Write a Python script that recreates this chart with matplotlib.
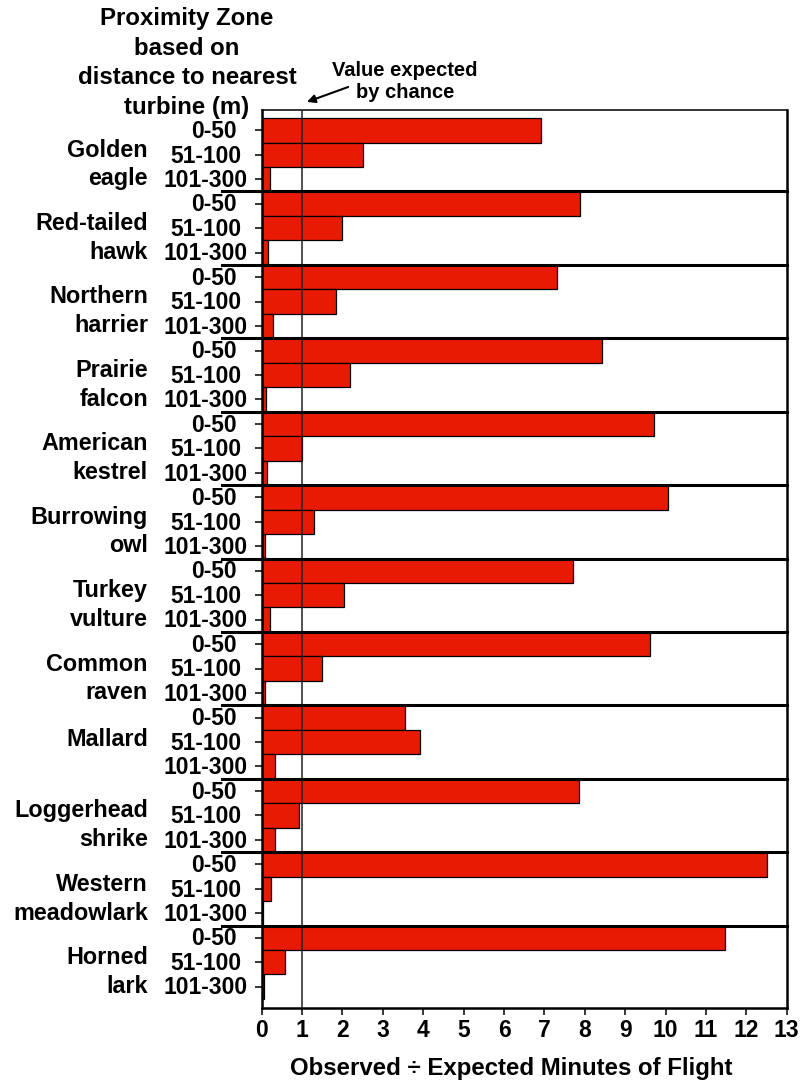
import matplotlib
matplotlib.use("Agg")
import matplotlib.pyplot as plt
import numpy as np

plt.rcParams['font.family'] = ['Liberation Sans', 'DejaVu Sans']
plt.rcParams['font.weight'] = 'bold'

# data
species = ["Golden\neagle", "Red-tailed\nhawk", "Northern\nharrier", "Prairie\nfalcon",
           "American\nkestrel", "Burrowing\nowl", "Turkey\nvulture", "Common\nraven",
           "Mallard", "Loggerhead\nshrike", "Western\nmeadowlark", "Horned\nlark"]
zones = ["0-50", "51-100", "101-300"]
zone_0_50 = [6.91, 7.89, 7.32, 8.42, 9.72, 10.06, 7.72, 9.62, 3.55, 7.85, 12.50, 11.48]
zone_51_100 = [2.50, 2.00, 1.84, 2.19, 1.01, 1.30, 2.04, 1.49, 3.93, 0.93, 0.24, 0.58]
zone_101_300 = [0.20, 0.16, 0.27, 0.10, 0.14, 0.07, 0.20, 0.07, 0.34, 0.34, 0.02, 0.06]
x_ticks = list(range(0, 14))

bar_color = '#E81A03'

fig = plt.figure(figsize=(8.01, 10.85), dpi=100)
ax = fig.add_axes([261.7 / 801, 1 - 1008 / 1085, 525 / 801, 898 / 1085])

n = len(species)
for k, vals in enumerate([zone_0_50, zone_51_100, zone_101_300]):
    ypos = np.arange(n) * 3 + k
    ax.barh(ypos, vals, height=1.0, color=bar_color, edgecolor='black',
            linewidth=0.9, zorder=2)

ax.set_ylim(35.87, -0.83)
ax.set_xlim(0, 13)

# value expected by chance
ax.axvline(1, color='#222222', linewidth=1.1, zorder=3)

# group separators (extend left past the axis)
for g in range(1, n):
    ax.plot([-0.0756, 1], [g * 3 - 0.5, g * 3 - 0.5], color='black', linewidth=2.2,
            transform=ax.get_yaxis_transform(), clip_on=False, zorder=4)

# y ticks at every bar
ax.set_yticks(np.arange(n * 3))
ax.set_yticklabels([])
ax.tick_params(axis='y', direction='out', length=5, width=1.1, left=True)

label_x = {"0-50": -0.0470, "51-100": -0.0394, "101-300": -0.0261}
for g in range(n):
    for k, z in enumerate(zones):
        ax.text(label_x[z], g * 3 + k + 0.05, z, transform=ax.get_yaxis_transform(),
                ha='right', va='center', fontsize=16.5, fontweight='bold')
    off = 0.4 if "\n" in species[g] else -0.1
    ax.text(-0.2166, g * 3 + 1 + off, species[g], transform=ax.get_yaxis_transform(),
            ha='right', va='center', fontsize=16.8, fontweight='bold', linespacing=1.32)

ax.set_xticks(x_ticks)
ax.set_xticklabels([str(t) for t in x_ticks], fontsize=16.5, fontweight='bold')
ax.tick_params(axis='x', direction='out', length=5, width=1.1, pad=3)

for side in ['left', 'right', 'bottom']:
    ax.spines[side].set_linewidth(1.8)
ax.spines['top'].set_linewidth(1.1)

fig.text(187 / 801, 1 - 63 / 1085,
         "Proximity Zone\nbased on\ndistance to nearest\nturbine (m)",
         ha='center', va='center', fontsize=17.3, fontweight='bold', linespacing=1.36)

ax.text(3.55, 1.0317, "Value expected\nby chance", transform=ax.get_xaxis_transform(),
        ha='center', va='center', fontsize=14.5, fontweight='bold', linespacing=1.15)
ax.annotate("", xy=(1.12, 1.009), xycoords=('data', 'axes fraction'),
            xytext=(2.14, 1.0256), textcoords=('data', 'axes fraction'),
            arrowprops=dict(arrowstyle='-|>', lw=1.5, color='black', mutation_scale=12,
                            shrinkA=0, shrinkB=0))

fig.text(511 / 801, 1 - 1068 / 1085, "Observed \u00f7 Expected Minutes of Flight",
         ha='center', va='center', fontsize=17.3, fontweight='bold')

fig.savefig("out.png", dpi=100)
